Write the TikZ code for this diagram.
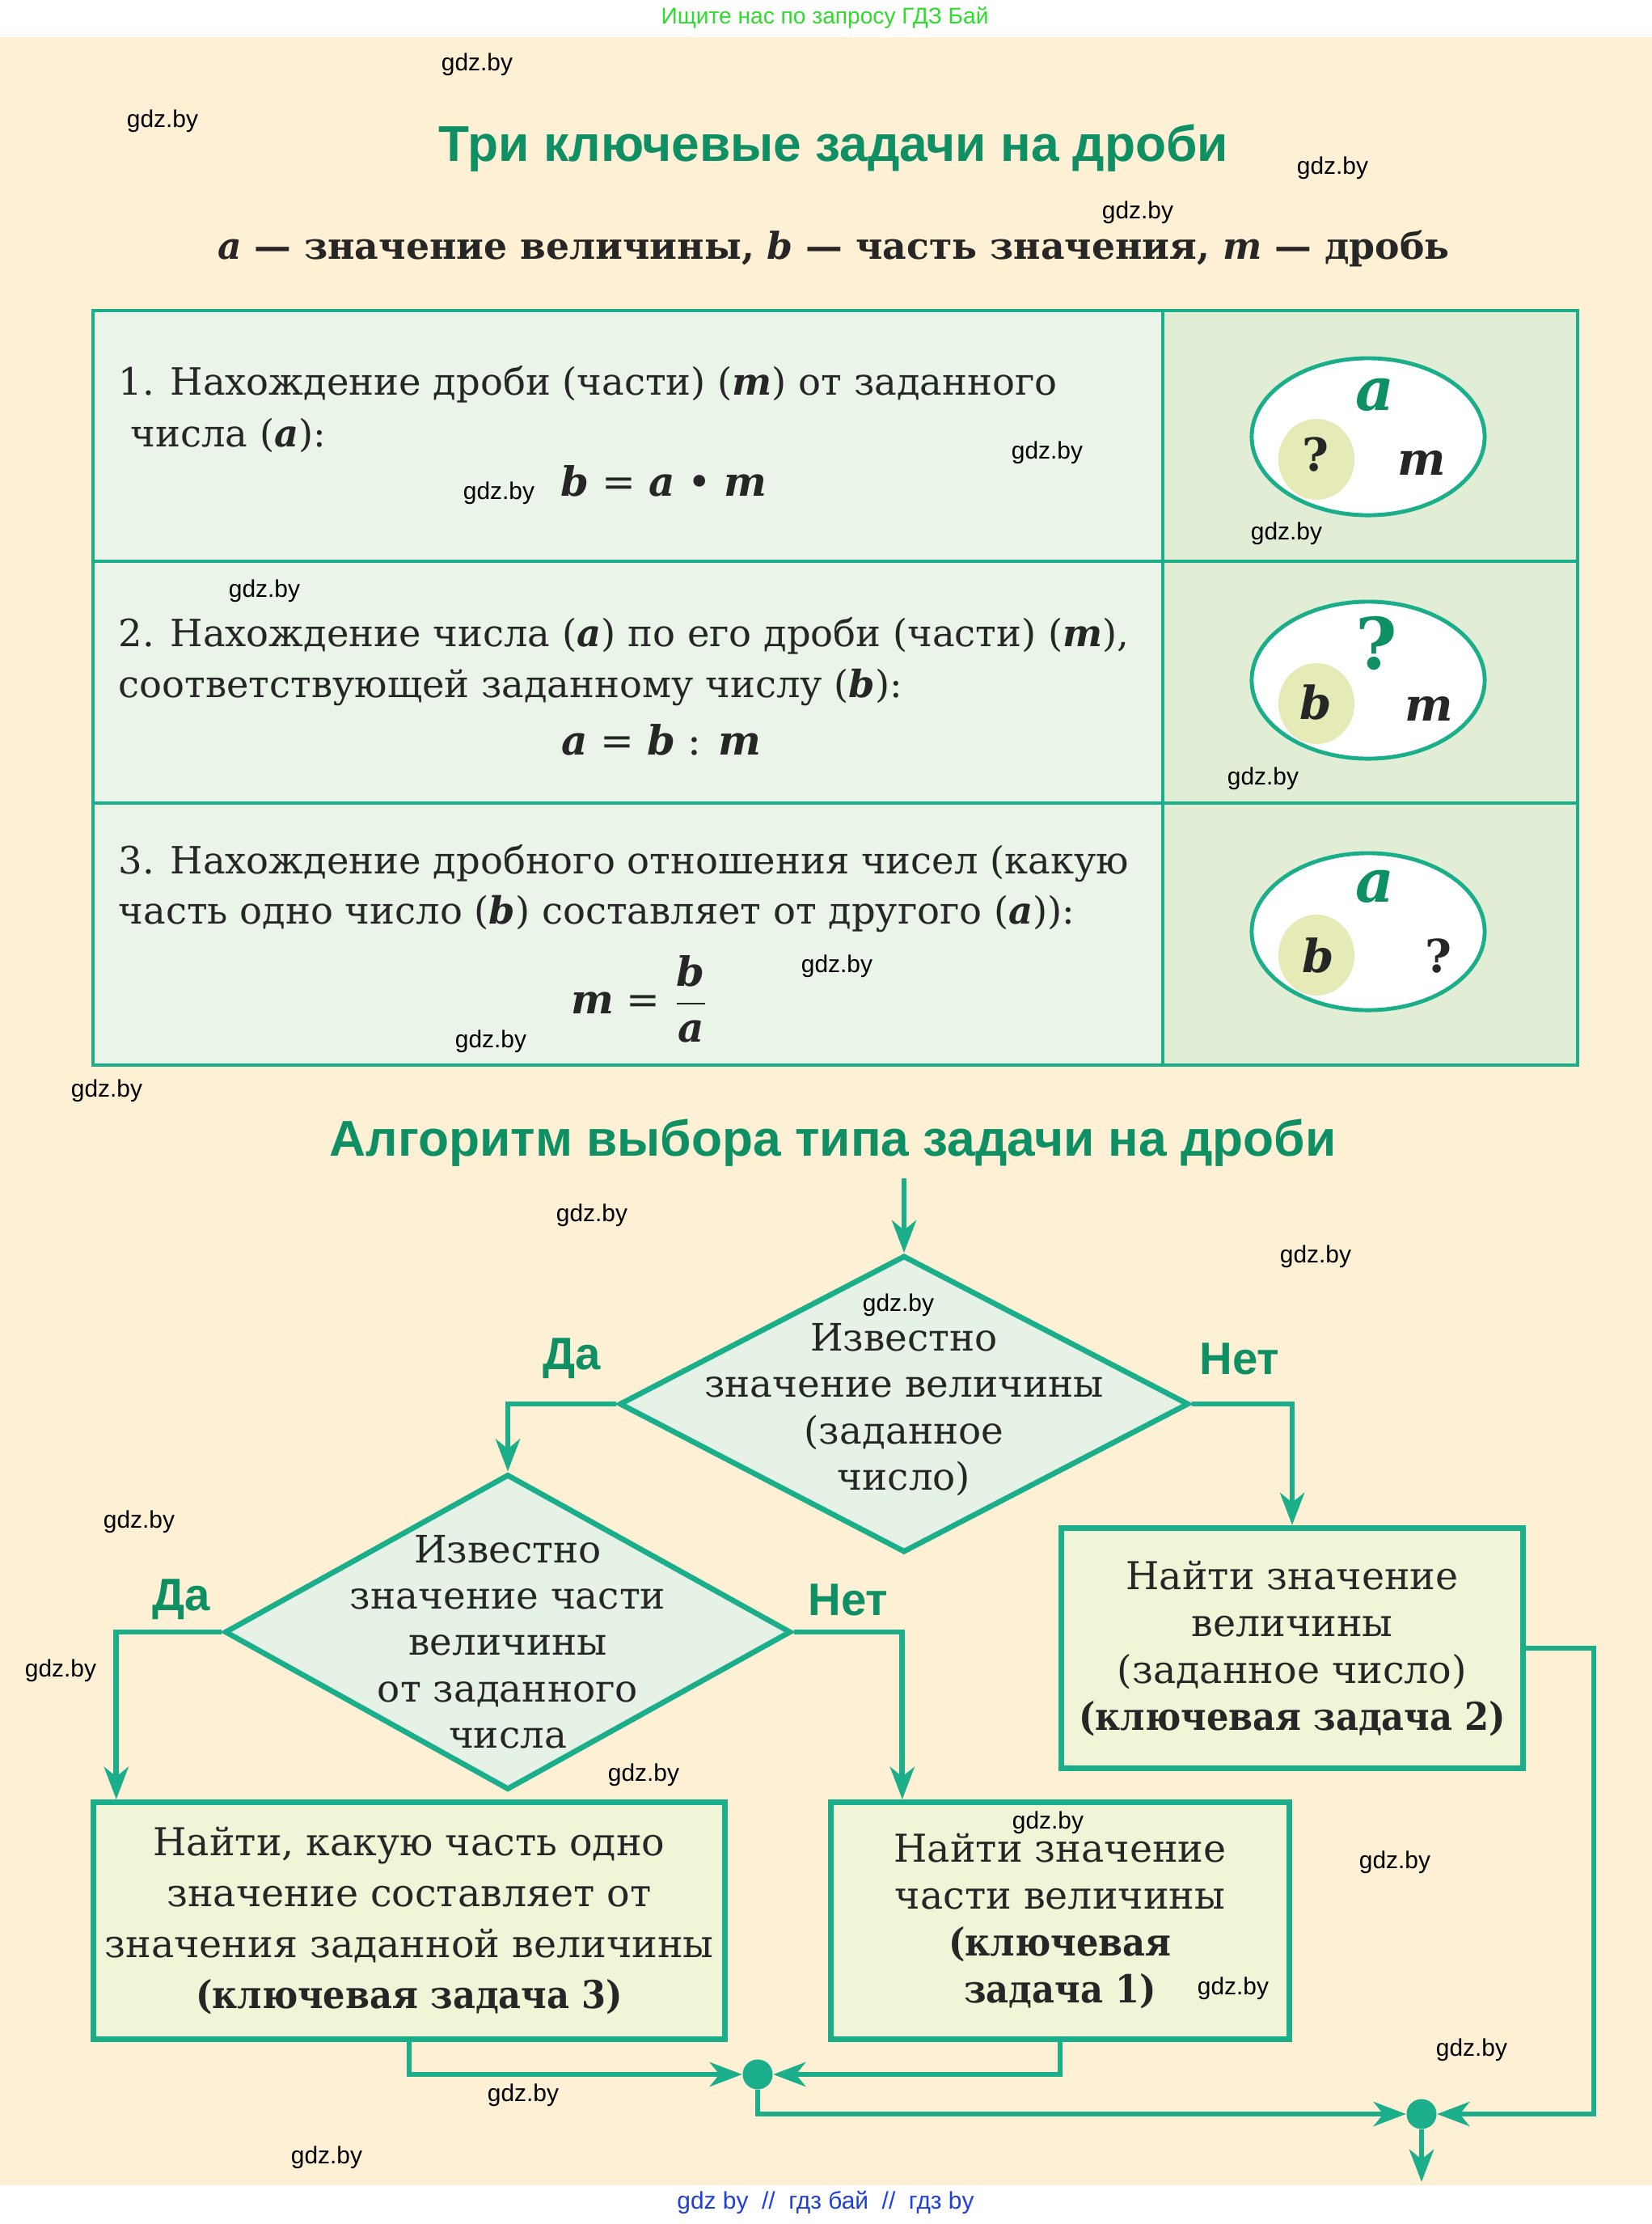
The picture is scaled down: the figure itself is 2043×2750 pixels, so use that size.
\documentclass[tikz,border=0pt]{standalone}
\usepackage{fontspec}
\usepackage{amsmath}
\setmainfont{DejaVu Serif}
\newfontfamily\sansfont{Liberation Sans}
\newfontfamily\keyfont{DejaVu Serif}[FakeStretch=0.91]
\usetikzlibrary{arrows.meta,calc,positioning,shapes.geometric}
\definecolor{creambg}{HTML}{FDF0D5}
\definecolor{flowteal}{HTML}{1BAE8A}
\definecolor{titlegreen}{HTML}{0F9064}
\definecolor{cellleft}{HTML}{EAF4E8}
\definecolor{cellright}{HTML}{E2EDD6}
\definecolor{decisionfill}{HTML}{E7F2E6}
\definecolor{taskfill}{HTML}{F1F5D8}
\definecolor{partfill}{HTML}{E5EAB6}
\definecolor{headgreen}{HTML}{2EDB2E}
\definecolor{footblue}{HTML}{1F3FE0}
\newcommand{\vr}[1]{\textbf{\textit{#1}}}
\newcommand{\keytask}[1]{{\keyfont\bfseries #1}}

\begin{document}
\begin{tikzpicture}[
  x=0.01cm, y=-0.01cm,
  >={Stealth[length=4mm,width=3mm,inset=1.2mm]},
  font=\fontsize{13.2pt}{17.6pt}\selectfont,
  title/.style={font=\sansfont\bfseries\fontsize{17.7pt}{20pt}\selectfont, text=titlegreen},
  wm/.style={font=\sansfont\fontsize{8.5pt}{10pt}\selectfont, text=black},
  rowtext/.style={anchor=base west, inner sep=0pt, text=black!85},
  formula/.style={anchor=base, inner sep=0pt, text=black!85, font=\fontsize{14.2pt}{17pt}\selectfont},
  whole/.style={draw=flowteal, line width=1.4pt, fill=white},
  part/.style={fill=partfill},
  bigvar/.style={font=\fontsize{21pt}{22pt}\selectfont, text=titlegreen},
  smallvar/.style={font=\fontsize{16pt}{18pt}\selectfont, text=black!85},
  decision/.style={diamond, draw=flowteal, fill=decisionfill, line width=1.9pt, inner sep=0pt},
  decisiontext/.style={align=center, text=black!85, font=\fontsize{13.3pt}{16.3pt}\selectfont},
  task/.style={rectangle, draw=flowteal, fill=taskfill, line width=2pt, align=center, text=black!85, font=\fontsize{13.5pt}{16.5pt}\selectfont, inner sep=0pt},
  answer/.style={font=\sansfont\bfseries\fontsize{16pt}{18pt}\selectfont, text=titlegreen},
  flow/.style={->, draw=flowteal, line width=1.9pt},
  joint/.style={circle, fill=flowteal, minimum size=3.7mm, inner sep=0pt},
  tableline/.style={draw=flowteal, line width=1.4pt}
]
\useasboundingbox (0,0) rectangle (2043,2750);
\fill[white] (0,0) rectangle (2043,2750);
\fill[creambg] (0,46) rectangle (2043,2702);

\node[font=\sansfont\fontsize{8pt}{9pt}\selectfont, text=headgreen] (searchnote) at (1020,22) {Ищите нас по запросу ГДЗ Бай};
\node[font=\sansfont\fontsize{8.5pt}{9pt}\selectfont, text=footblue] (footnote) at (1021,2723) {gdz by\ \ //\ \ гдз бай\ \ //\ \ гдз by};

\node[title] (maintitle) at (1031,183) {Три ключевые задачи на дроби};
\node[font=\bfseries\fontsize{13pt}{16pt}\selectfont, text=black!85] (legend) at (1031,307) {\vr{a} — значение величины, \vr{b} — часть значения, \vr{m} — дробь};

% table of the three tasks
\fill[cellleft] (115,384) rectangle (1438,1317);
\fill[cellright] (1438,384) rectangle (1951,1317);
\draw[tableline] (115,384) rectangle (1951,1317);
\draw[tableline] (115,694) -- (1951,694);
\draw[tableline] (115,993) -- (1951,993);
\draw[tableline] (1438,384) -- (1438,1317);

\node[rowtext] (taskone) at (146,488) {1. Нахождение дроби (части) (\vr{m}) от заданного};
\node[rowtext] at (161,552) {числа (\vr{a}):};
\node[formula] at (821,613) {\vr{b} = \vr{a} • \vr{m}};
\draw[whole] (1692,540) ellipse [x radius=1.44cm, y radius=0.97cm];
\fill[part] (1628,568) ellipse [x radius=0.47cm, y radius=0.5cm];
\node[bigvar] at (1700,488) {\vr{a}};
\node[smallvar] at (1627,562) {\textbf{?}};
\node[smallvar] at (1758,572) {\vr{m}};

\node[rowtext] (tasktwo) at (146,799) {2. Нахождение числа (\vr{a}) по его дроби (части) (\vr{m}),};
\node[rowtext] at (146,862) {соответствующей заданному числу (\vr{b}):};
\node[formula] at (818,933) {\vr{a} = \vr{b} : \vr{m}};
\draw[whole] (1692,841) ellipse [x radius=1.44cm, y radius=0.97cm];
\fill[part] (1628,870) ellipse [x radius=0.47cm, y radius=0.5cm];
\node[bigvar, font=\fontsize{25pt}{26pt}\selectfont] at (1702,795) {\textbf{?}};
\node[smallvar] at (1627,869) {\vr{b}};
\node[smallvar] at (1767,876) {\vr{m}};

\node[rowtext] (taskthree) at (146,1080) {3. Нахождение дробного отношения чисел (какую};
\node[rowtext] at (146,1142) {часть одно число (\vr{b}) составляет от другого (\vr{a})):};
\node[inner sep=0pt, text=black!85, font=\fontsize{14.2pt}{17pt}\selectfont] at (791,1235) {\vr{m} = $\dfrac{\hbox{\vr{b}}}{\hbox{\vr{a}}}$};
\draw[whole] (1692,1152) ellipse [x radius=1.44cm, y radius=0.97cm];
\fill[part] (1628,1181) ellipse [x radius=0.47cm, y radius=0.5cm];
\node[bigvar] at (1700,1096) {\vr{a}};
\node[smallvar] at (1630,1181) {\vr{b}};
\node[smallvar] at (1779,1182) {\textbf{?}};

% algorithm
\node[title] (algotitle) at (1030,1413) {Алгоритм выбора типа задачи на дроби};
\coordinate (entry) at (1118,1457);
\node[decision, minimum width=7.04cm, minimum height=3.67cm] (knowwhole) at (1118,1736) {};
\node[decisiontext] at (1118,1743) {Известно\\значение величины\\(заданное\\число)};
\node[decision, minimum width=7.0cm, minimum height=3.9cm] (knowpart) at (628,2018) {};
\node[decisiontext] at (628,2030) {Известно\\значение части\\величины\\от заданного\\числа};

\node[task, minimum width=5.71cm, minimum height=2.97cm] (findwhole) at (1598,2038) {Найти значение\\величины\\(заданное число)\\\keytask{(ключевая задача 2)}};
\node[task, minimum width=7.81cm, minimum height=2.93cm, font=\fontsize{13.5pt}{18pt}\selectfont] (findratio) at (506,2375) {Найти, какую часть одно\\значение составляет от\\значения заданной величины\\\keytask{(ключевая задача 3)}};
\node[task, minimum width=5.67cm, minimum height=2.93cm] (findpart) at (1311,2375) {Найти значение\\части величины\\\keytask{(ключевая}\\\keytask{задача 1)}};

\node[answer] at (707,1680) {Да};
\node[answer] at (1533,1680) {Нет};
\node[answer] at (224,1978) {Да};
\node[answer] at (1049,1978) {Нет};

\node[joint] (jointleft) at (937,2565) {};
\node[joint] (jointright) at (1758,2614) {};
\coordinate (loopback) at (1971,2038);
\coordinate (exit) at (1758,2698);

\draw[flow] (entry) -- (knowwhole.north);
\draw[flow] (knowwhole.west) -| (knowpart.north);
\draw[flow] (knowwhole.east) -| (findwhole.north);
\draw[flow] (knowpart.west) -| ($(findratio.north west)+(32,0)$);
\draw[flow] (knowpart.east) -| ($(findpart.north west)+(92,0)$);
\draw[flow] (findratio.south) |- (jointleft);
\draw[flow] (findpart.south) |- (jointleft);
\draw[flow] (jointleft) |- (jointright);
\draw[flow] (findwhole.east) -- (loopback) |- (jointright);
\draw[flow] (jointright) -- (exit);

% watermarks
\foreach \p in {(590,80),(201,150),(1648,208),(1407,263),(1295,560),(617,610),(1591,660),
  (327,731),(1562,963),(1035,1195),(607,1288),(132,1349),(732,1503),(1627,1554),(1111,1614),
  (172,1882),(75,2066),(796,2195),(1296,2254),(1725,2303),(1525,2459),(1820,2535),(647,2591),(404,2668)}
  \node[wm] at \p {gdz.by};
\end{tikzpicture}
\end{document}
